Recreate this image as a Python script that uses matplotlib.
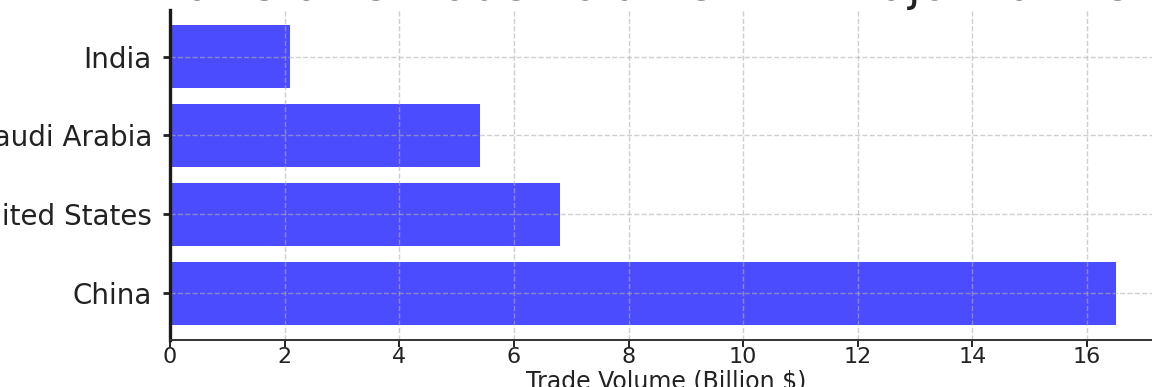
import matplotlib
matplotlib.use("Agg")
import matplotlib.pyplot as plt

# trade volume by partner, billion USD
partners = ["China", "United States", "Saudi Arabia", "India"]
volume = [16.5, 6.8, 5.4, 2.1]

title = "Pakistan's Trade Volume with Major Partners"
xlabel = "Trade Volume (Billion $)"
xticks = [0, 2, 4, 6, 8, 10, 12, 14, 16]

TEXT = "#222222"

fig = plt.figure(figsize=(11.52, 3.87), dpi=100)
# the reference is a crop of a larger figure: axes runs past the right edge
ax = fig.add_axes([0.1476, 0.1214, 0.862, 0.853])

ax.barh(partners, volume, height=0.8, color="blue", alpha=0.7)

ax.set_xticks(xticks)
ax.set_xlim(0, max(volume) * 1.05)
ax.grid(True, linestyle="--", color="#b0b0b0", alpha=0.6, linewidth=1.0)

for side in ("top", "right"):
    ax.spines[side].set_visible(False)
ax.spines["left"].set_linewidth(2.4)
ax.spines["left"].set_color("#1a1a1a")
ax.spines["bottom"].set_linewidth(1.4)
ax.spines["bottom"].set_color("#333333")

ax.tick_params(axis="y", labelsize=20, colors=TEXT, length=5, width=2, pad=8)
ax.tick_params(axis="x", labelsize=16, colors=TEXT, length=5, width=1.4, pad=0)

ax.set_xlabel(xlabel, fontsize=17, color=TEXT)
ax.xaxis.set_label_coords(0.5, -0.088)
ax.set_title(title, fontsize=33, color=TEXT, pad=6)

fig.savefig("out.png", dpi=100)
